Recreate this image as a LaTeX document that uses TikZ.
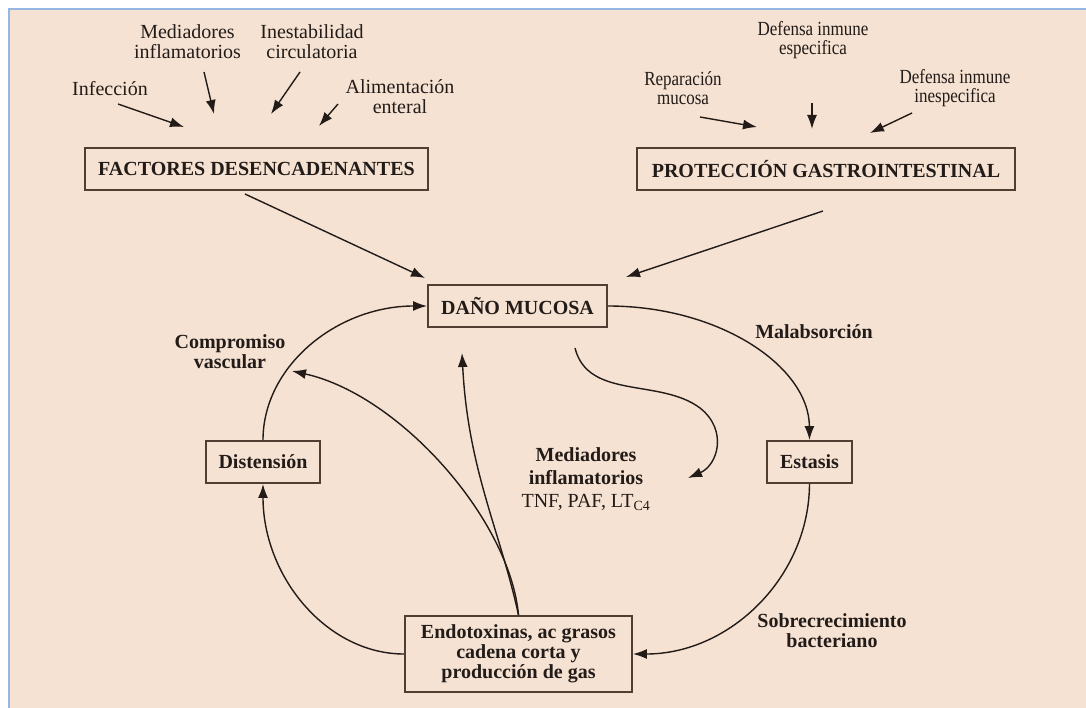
\documentclass[tikz,border=0pt]{standalone}
\usepackage{fontspec}
\setmainfont{Liberation Serif}
\newfontfamily\condfont[FakeStretch=0.85]{Liberation Serif}
\usetikzlibrary{arrows.meta}
\definecolor{bg}{RGB}{245,226,210}
\definecolor{framec}{RGB}{150,182,228}
\definecolor{ink}{RGB}{34,27,24}
\definecolor{boxc}{RGB}{80,62,50}
\begin{document}
\begin{tikzpicture}[x=1pt,y=-1pt,
  box/.style={draw=boxc, line width=1.9pt, inner sep=0pt, font=\bfseries\fontsize{20}{20}\selectfont, text=ink, align=center},
  lab/.style={font=\fontsize{20}{20}\selectfont, text=ink, align=center, inner sep=0pt},
  slab/.style={font=\condfont\fontsize{20}{19.5}\selectfont, text=ink, align=center, inner sep=0pt},
  blab/.style={font=\bfseries\fontsize{20}{20}\selectfont, text=ink, align=center, inner sep=0pt},
  conn/.style={draw=ink, line width=1.4pt, -{Latex[length=14pt,width=10pt]}}
]
\useasboundingbox (0,0) rectangle (1086,708);
\fill[white] (0,0) rectangle (1086,708);
\fill[bg] (9,9) rectangle (1086,708);
\draw[framec, line width=2pt] (9,708) -- (9,9) -- (1086,9);

% boxes
\node[box, minimum width=343pt, minimum height=42pt] (fd) at (256.5,169) {FACTORES DESENCADENANTES};
\node[box, minimum width=378pt, minimum height=42pt] (pg) at (826,169) {PROTECCIÓN GASTROINTESTINAL};
\node[box, minimum width=179pt, minimum height=42pt] (dm) at (517.5,306) {DAÑO MUCOSA};
\node[box, minimum width=114pt, minimum height=42pt] (di) at (263,462) {Distensión};
\node[box, minimum width=85pt, minimum height=42pt] (es) at (809.5,462) {Estasis};
\node[box, minimum width=227pt, minimum height=76pt] (en) at (518.5,654) {Endotoxinas, ac grasos\\cadena corta y\\producción de gas};

% labels
\node[lab] (inf) at (110,89) {Infección};
\node[lab] (med) at (187.5,42) {Mediadores\\inflamatorios};
\node[lab] (ine) at (312,42) {Inestabilidad\\circulatoria};
\node[lab] (ali) at (400,97) {Alimentación\\enteral};
\node[slab] (rep) at (683,88) {Reparación\\mucosa};
\node[slab] (dis) at (813,40) {Defensa inmune\\especifica};
\node[slab] (din) at (955,88) {Defensa inmune\\inespecifica};
\node[blab] (cv) at (230,352) {Compromiso\\vascular};
\node[blab] (mal) at (814,332) {Malabsorción};
\node[blab] (sb) at (832,631) {Sobrecrecimiento\\bacteriano};
\node[lab, font=\fontsize{20}{23}\selectfont] (mi) at (586,479) {\textbf{Mediadores}\\\textbf{inflamatorios}\\TNF, PAF, LT\textsubscript{C4}};

% small arrows top left
\coordinate (a1s) at (118,104); \coordinate (a1e) at (184,127);
\coordinate (a2s) at (204,72);  \coordinate (a2e) at (214,114);
\coordinate (a3s) at (300,72);  \coordinate (a3e) at (271,114);
\coordinate (a4s) at (338,104); \coordinate (a4e) at (319,126);
\draw[conn] (a1s) -- (a1e);
\draw[conn] (a2s) -- (a2e);
\draw[conn] (a3s) -- (a3e);
\draw[conn] (a4s) -- (a4e);

% small arrows top right
\coordinate (b1s) at (700,117); \coordinate (b1e) at (757,127);
\coordinate (b2s) at (812,103); \coordinate (b2e) at (812,129);
\coordinate (b3s) at (912,113); \coordinate (b3e) at (870,133);
\draw[conn] (b1s) -- (b1e);
\draw[conn] (b2s) -- (b2e);
\draw[conn] (b3s) -- (b3e);

% big arrows
\coordinate (c1s) at (245,194); \coordinate (c1e) at (425,278);
\coordinate (c2s) at (823,211); \coordinate (c2e) at (626,277);
\draw[conn] (c1s) -- (c1e);
\draw[conn] (c2s) -- (c2e);

% cycle
\draw[conn] (di.north) .. controls (263,366) and (337,306) .. (dm.west);
\draw[conn] (dm.east) .. controls (719,306) and (809,366) .. (es.north);
\draw[conn] (es.south) .. controls (809,577) and (730,654) .. (en.east);
\draw[conn] (en.west) .. controls (327,654) and (263,577) .. (di.south);

% from endotoxinas
\coordinate (cvp) at (292,371);
\coordinate (dmp) at (462,353);
\draw[conn] (en.north) .. controls (510,520) and (400,395) .. (cvp);
\draw[conn] (en.north) .. controls (500,530) and (468,470) .. (dmp);

% wavy arrow to mediadores
\coordinate (ws) at (575,348); \coordinate (we) at (688,478);
\draw[conn] (ws) .. controls (588,400) and (660,378) .. (700,408) .. controls (728,430) and (718,465) .. (we);
\end{tikzpicture}
\end{document}
